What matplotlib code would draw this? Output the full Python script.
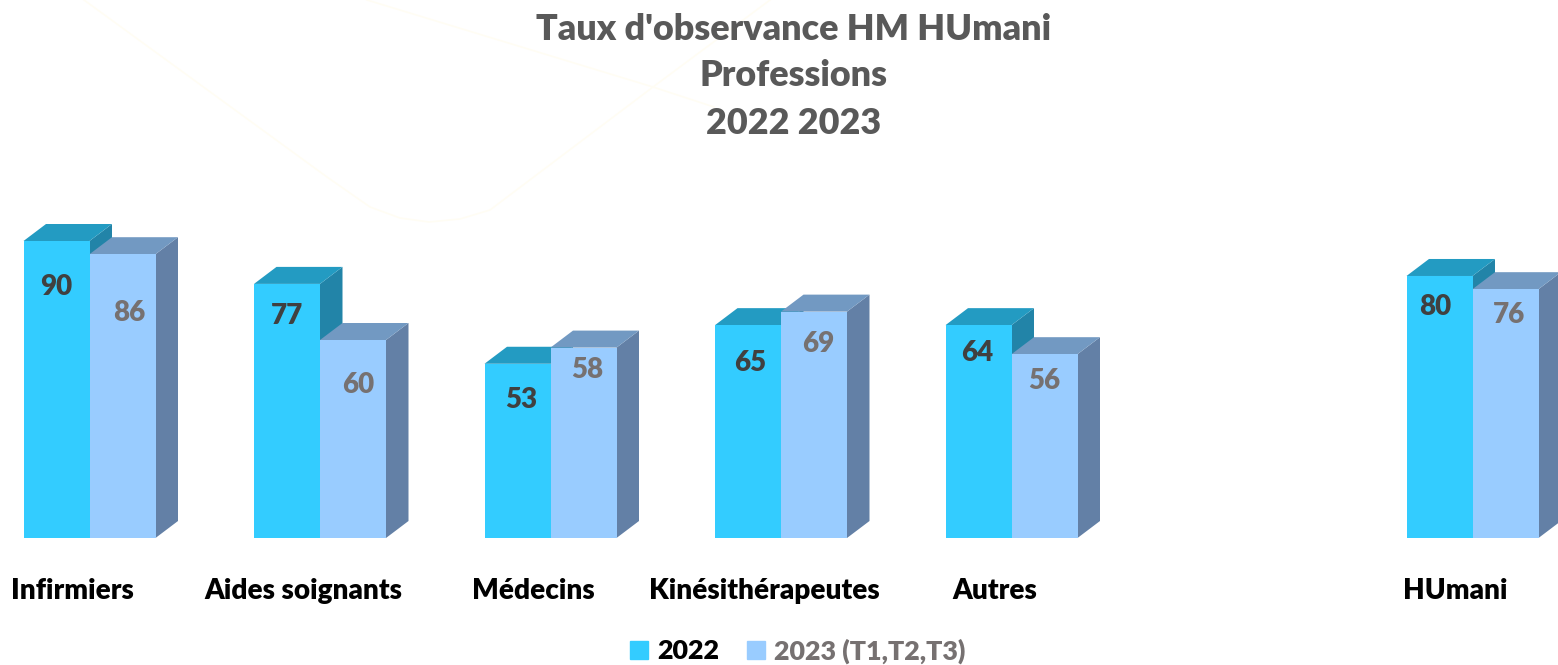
import matplotlib.pyplot as plt
import numpy as np
from matplotlib.patches import Patch, Polygon

categories = ["Infirmiers", "Aides soignants", "Médecins", "Kinésithérapeutes", "Autres", "", "HUmani"]
# printed labels and the drawn heights differ slightly in the source picture
labels_2022 = ["90", "77", "53", "65", "64", "", "80"]
labels_2023 = ["86", "60", "58", "69", "56", "", "76"]
values_2022 = [90, 77, 52.8, 64.5, 64.5, np.nan, 79.4]
values_2023 = [86, 60, 57.7, 68.6, 55.7, np.nan, 75.4]
series_names = ["2022", "2023 (T1,T2,T3)"]
title_lines = ["Taux d'observance HM HUmani", "Professions", "2022 2023"]

# hand placed data labels, pixels from the front top centre of each bar
label_dx_2022 = [0, 0, 4, 2, -1, 0, -4]
label_dy_2022 = [46, 32, 36, 38, 28, 0, 31]
label_dx_2023 = [7, 5, 4, 4, 0, 0, 4]
label_dy_2023 = [59, 45, 22, 32, 27, 0, 26]

# faint curves of the slide background, in picture pixels
curve_a_x = [84, 327, 370, 400, 429, 460, 490, 653, 770]
curve_a_y = [0, 177, 207, 218, 222, 219, 210, 87, 0]
curve_b_x = [367, 653, 714]
curve_b_y = [0, 87, 107]

W, H = 1558, 665
DPI = 100
GROUP_PX = 230.5
BAR_PX = 66
DEPTH_X_PX = 22.5
DEPTH_Y_PX = 17
Y_PX = 3.3
BASE_Y_PX = 538
ORIGIN_X_PX = 89.5

plt.rcParams["font.family"] = ["Lato", "DejaVu Sans"]
plt.rcParams["font.weight"] = 800

fig = plt.figure(figsize=(W / DPI, H / DPI), dpi=DPI)
ax = fig.add_axes([0, 0, 1, 1])
ax.set_xlim(-ORIGIN_X_PX / GROUP_PX, (W - ORIGIN_X_PX) / GROUP_PX)
ax.set_ylim(-(H - BASE_Y_PX) / Y_PX, BASE_Y_PX / Y_PX)
ax.axis("off")

for cx, cy in [(curve_a_x, curve_a_y), (curve_b_x, curve_b_y)]:
    ax.plot(np.array(cx) / W, 1 - np.array(cy) / H, color="#FFFDF4", lw=1.2, transform=fig.transFigure, zorder=0)

bar_w = BAR_PX / GROUP_PX
depth_x = DEPTH_X_PX / GROUP_PX
depth_y = DEPTH_Y_PX / Y_PX


def draw_series(vals, labels, left_shift, front, top, side, label_color, label_dx, label_dy, zorder):
    x = np.arange(len(vals)) + left_shift
    ax.bar(x, vals, width=bar_w, align="edge", color=front, zorder=zorder + 0.2)
    for xi, v, lab, dx, dy in zip(x, vals, labels, label_dx, label_dy):
        if np.isnan(v):
            continue
        ax.add_patch(Polygon([(xi, v), (xi + bar_w, v), (xi + bar_w + depth_x, v + depth_y), (xi + depth_x, v + depth_y)],
                             closed=True, fc=top, ec="none", zorder=zorder + 0.1))
        ax.add_patch(Polygon([(xi + bar_w, 0), (xi + bar_w + depth_x, depth_y), (xi + bar_w + depth_x, v + depth_y), (xi + bar_w, v)],
                             closed=True, fc=side, ec="none", zorder=zorder))
        ax.annotate(lab, (xi + bar_w / 2, v), xytext=(dx, -dy), textcoords="offset pixels",
                    ha="center", va="center", fontsize=20, color=label_color, zorder=5)


draw_series(values_2022, labels_2022, -bar_w, "#33CCFF", "#239BC2", "#2284A8", "#404040", label_dx_2022, label_dy_2022, 2)
draw_series(values_2023, labels_2023, 0, "#99CCFF", "#7299C2", "#6380A6", "#767171", label_dx_2023, label_dy_2023, 3)

# category labels sit a little left of the group centre
for i, name in enumerate(categories):
    ax.annotate(name, (i, 0), xytext=(-17, -53), textcoords="offset pixels",
                ha="center", va="center", fontsize=20.1, color="black")

for line, y in zip(title_lines, [29, 76, 123]):
    fig.text(794 / W, 1 - y / H, line, ha="center", va="center", fontsize=25.8, color="#595959")

leg = ax.legend(handles=[Patch(color="#33CCFF", label=series_names[0]), Patch(color="#99CCFF", label=series_names[1])],
                ncol=2, frameon=False, loc="center", bbox_to_anchor=(798 / W, 1 - 651 / H),
                bbox_transform=fig.transFigure, fontsize=19.4, handlelength=0.64, handleheight=0.64,
                handletextpad=0.35, columnspacing=1.05)
leg.get_texts()[0].set_color("black")
leg.get_texts()[1].set_color("#767171")

fig.savefig("out.png", dpi=DPI, facecolor="white")
